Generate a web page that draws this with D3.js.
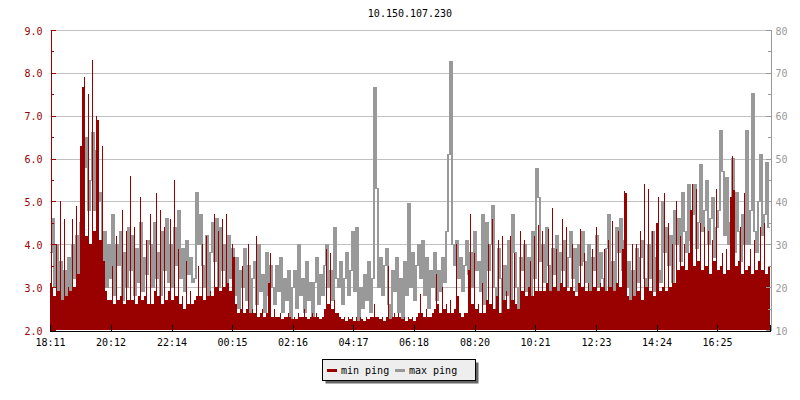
<!DOCTYPE html>
<html><head><meta charset="utf-8">
<script src="https://cdn.jsdelivr.net/npm/d3@7"></script>
<style>
body{margin:0;background:#fff}
svg{display:block}
text{font-family:"DejaVu Sans Mono","Liberation Mono",monospace;font-size:10px}
</style>
</head><body><svg id="c" width="800" height="400"></svg>
<script>
const title = "10.150.107.230";
const startTime = "18:11";
const stepMinutes = 4;
const spanMinutes = 1440;
const xTickLabels = ["18:11","20:12","22:14","00:15","02:16","04:17","06:18","08:20","10:21","12:23","14:24","16:25"];
const leftTicks = [2,3,4,5,6,7,8,9];
const rightTicks = [10,20,30,40,50,60,70,80];
const seriesNames = ["min ping","max ping"];

const minPing = [
3.1,3.0,2.8,4.0,2.9,5.0,2.7,4.6,2.8,3.0,
2.9,4.6,3.0,4.9,3.3,6.3,7.66,7.9,4.2,7.5,
4.0,8.3,4.3,7.0,6.9,4.1,6.3,3.6,2.9,2.7,
2.7,3.5,2.6,4.2,2.7,2.8,4.8,2.6,4.3,2.7,
5.6,2.7,4.4,2.6,2.8,5.1,2.7,2.8,4.1,2.6,
4.7,2.6,2.9,5.2,2.8,4.8,2.6,4.4,2.7,2.9,
4.6,2.7,5.5,2.8,3.9,2.6,2.8,2.5,3.6,2.6,2.9,2.6,
2.7,2.8,3.5,2.8,4.0,2.7,4.2,2.8,2.9,2.8,
4.7,3.0,4.3,2.9,4.6,3.0,4.7,3.1,2.9,4.0,
3.7,2.6,2.4,2.5,3.5,2.4,2.5,4.0,2.4,2.5,
2.4,4.2,2.3,2.4,2.5,2.3,2.4,3.1,3.8,2.3,
2.5,2.3,2.3,2.4,2.25,2.3,2.3,2.4,2.3,2.25,
2.3,2.25,2.4,2.3,2.3,2.5,2.3,2.25,2.3,2.4,
2.3,2.4,2.3,2.25,2.3,2.5,3.9,2.6,3.8,2.5,2.7,2.4,
2.4,2.3,2.25,2.3,2.2,2.3,2.25,2.3,2.2,2.3,
2.2,2.3,2.25,2.2,2.3,2.25,2.3,2.3,2.6,2.3,
2.3,2.25,2.3,2.2,2.3,3.5,2.25,2.3,2.4,2.3,
2.4,2.3,2.25,2.3,2.2,2.3,2.25,2.3,2.2,2.3,
2.4,2.85,2.4,2.3,2.5,2.3,2.3,2.4,2.5,3.3,
2.6,2.4,3.0,2.5,2.6,2.4,2.7,2.4,2.5,4.0,
2.8,2.4,2.3,2.4,2.4,3.4,4.7,2.6,3.8,2.5,2.6,2.4,
3.1,2.4,2.7,4.0,2.6,4.6,2.5,2.8,4.1,2.4,
4.2,2.7,2.9,2.5,4.2,2.7,3.8,2.6,2.5,4.3,
2.9,4.1,2.8,3.0,3.6,2.8,4.2,2.9,4.45,2.9,
4.3,2.9,3.1,4.35,2.9,4.85,3.0,3.9,2.9,3.1,
4.6,3.0,4.4,2.9,3.0,4.0,2.9,2.8,3.1,4.35,
3.0,3.8,2.9,3.1,2.9,3.9,3.0,4.4,2.9,3.1,
3.0,3.9,2.9,4.1,3.0,4.55,2.9,3.1,4.3,3.0,3.9,5.25,
5.2,2.8,2.7,4.0,2.8,4.0,2.9,4.3,2.7,5.4,
3.0,5.3,2.9,4.3,2.8,4.5,5.1,2.9,3.0,5.2,
2.9,4.5,3.0,4.0,3.1,5.0,3.4,4.2,3.5,4.0,
3.4,3.8,4.8,5.4,3.5,5.3,3.6,4.5,3.4,4.4,
3.5,4.3,3.3,4.1,3.6,5.3,3.4,3.5,3.8,3.3,
3.9,3.4,5.1,6.07,5.27,3.5,3.6,4.4,3.3,5.2,
3.4,3.5,3.9,3.3,4.1,3.4,3.6,4.4,3.4,4.5,3.3,3.5
];

const maxPing = [
28,36,20,30,17,26,15,24,18,27,
18,30,22,32,20,35,40,48,55,38,
45,56,38,52,40,42,25,33,20,30,
22,37,18,30,25,33,17,28,20,34,
24,32,18,29,21,35,19,27,23,31,
30,20,35,22,28,18,33,24,36,21,
30,20,34,25,38,22,29,19,31,23,27,21,
22,42,30,37,25,20,32,16,28,35,
26,36,20,34,24,30,18,32,22,29,
18,27,15,24,20,29,17,25,14,22,
26,16,30,19,23,14,28,18,25,20,
16,25,19,27,14,22,17,24,12,20,
24,15,30,18,22,14,26,17,21,13,
21,27,16,23,18,25,30,20,24,17,34,22,
20,26,16,22,28,18,24,33,19,34,
12,20,15,23,17,26,14,22,66.6,43,
20,27,18,25,29,16,11,24,19,27,
14,22,12,26,18,39.5,20,28,17,25,
30,22,31,18,27,15,24,20,28,17,
24,19,27,21,33,51,72.6,30,25,31,
22,27,19,25,31,23,28,20,33,24,26,19,
37,16,35,24,30,39,20,14,29,22,
13,25,18,31,14,37,28,20,14,27,
24,30,19,27,15,33,22,47.8,41,26,
30,21,34,25,18,29,23,32,16,28,
24,31,20,27,33,22,29,19,30,25,
33,26,21,30,18,27,24,32,20,28,
22,12,29,37,17,26,18,34,28,36,24,31,
20,26,15,24,18,29,21,27,31,22,
17,30,22,33,19,27,24,21,40,28,
34,25,32,21,38,30,36,26,42,33,
28,44,31,37,44,29,35,48.6,33,38,
45,30,36,41,27,34,38,56.5,47,32,
45.7,30,35,50,28,42,33,26,37,30,
56.5,30,38,65.2,33,28,40,51,32,37,49,34
];

const RED = "#990000", GRAY = "#999999", GRID = "#c0c0c0";
const M = {l:50, r:770, t:30, b:330};
const svg = d3.select("#c");

const toMin = s => { const [h,m] = s.split(":").map(Number); return h*60+m; };
const t0 = toMin(startTime);
const tickMins = xTickLabels.map(s => ((toMin(s) - t0) + 1440) % 1440);

const x = d3.scaleLinear().domain([0, spanMinutes]).range([M.l, M.r]);
const yL = d3.scaleLinear().domain([2, 9]).range([M.b, M.t]);
const yR = d3.scaleLinear().domain([10, 80]).range([M.b, M.t]);

const n = Math.min(minPing.length, maxPing.length);
const rows = d3.range(n).map(i => ({t: i*stepMinutes, lo: minPing[i], hi: maxPing[i]}));

// min ping: 1px sample bars; the gap pixel between samples takes the lower neighbour
const redPts = [];
rows.forEach((d, i) => {
  const nxt = rows[i+1] || d;
  const px = x(d.t);
  redPts.push({px: px, v: d.lo});
  redPts.push({px: px + 1, v: Math.min(d.lo, nxt.lo)});
});
redPts.push({px: x(spanMinutes), v: rows[n-1].lo});

// max ping: pixel-column line (vertical runs joining consecutive samples)
const grayPts = [];
const pad = 0.5;
rows.forEach((d, i) => {
  const prv = rows[i-1] || d, nxt = rows[i+1] || d;
  const h = yR(d.hi), hp = yR(prv.hi), hn = yR(nxt.hi);
  const px = x(d.t);
  grayPts.push({px: px, a: Math.min(h, hp) - pad, b: Math.max(h, hp) + pad});
  grayPts.push({px: px + 1, a: Math.min(h, hn) - pad, b: Math.max(h, hn) + pad});
});
grayPts.push({px: x(spanMinutes), a: yR(rows[n-1].hi), b: yR(rows[n-1].hi)});

// title
svg.append("text").attr("x", (M.l+M.r)/2).attr("y", 17).attr("text-anchor","middle").attr("fill","#000").text(title);

// grid
svg.append("g").selectAll("line").data(leftTicks.filter(v=>v>2)).join("line")
  .attr("x1", M.l).attr("x2", M.r).attr("y1", d=>Math.round(yL(d))+0.5).attr("y2", d=>Math.round(yL(d))+0.5)
  .attr("stroke", GRID).attr("stroke-width",1);

// max ping
svg.append("path").datum(grayPts)
  .attr("d", d3.area().x(d=>d.px).y0(d=>d.b).y1(d=>d.a).curve(d3.curveStepAfter))
  .attr("fill",GRAY).attr("stroke","none").attr("shape-rendering","crispEdges");

// min ping
svg.append("path").datum(redPts)
  .attr("d", d3.area().x(d=>d.px).y0(yL(2)).y1(d=>yL(d.v)).curve(d3.curveStepAfter))
  .attr("fill",RED).attr("stroke","none").attr("shape-rendering","crispEdges");

// left axis
const minorL = d3.range(2, 9.01, 0.5);
const gL = svg.append("g").attr("transform",`translate(${M.l+0.5},0)`);
gL.call(d3.axisLeft(yL).tickValues(minorL).tickSize(-3).tickFormat(""));
gL.append("g").call(d3.axisLeft(yL).tickValues(leftTicks).tickSize(-5).tickPadding(8).tickFormat(d3.format(".1f")));
gL.selectAll("path,line").attr("stroke",RED);
gL.selectAll("text").attr("fill",RED).attr("font-family",null).attr("font-size",null).attr("dy","0.4em");

// right axis
const minorR = d3.range(10, 80.1, 5);
const gR = svg.append("g").attr("transform",`translate(${M.r+0.5},0)`);
gR.call(d3.axisRight(yR).tickValues(minorR).tickSize(-3).tickFormat(""));
gR.append("g").call(d3.axisRight(yR).tickValues(rightTicks).tickSize(-5).tickPadding(5).tickFormat(d3.format("d")));
gR.selectAll("path,line").attr("stroke",GRAY);
gR.selectAll("text").attr("fill",GRAY).attr("font-family",null).attr("font-size",null).attr("dy","0.4em");

// bottom axis
const gB = svg.append("g").attr("transform",`translate(0,${M.b+0.5})`);
gB.call(d3.axisBottom(x).tickValues(tickMins).tickSize(-6).tickPadding(8).tickFormat((d,i)=>xTickLabels[i]));
gB.selectAll("path,line").attr("stroke","#000");
gB.selectAll("text").attr("fill","#000").attr("font-family",null).attr("font-size",null);
svg.selectAll(".domain").attr("shape-rendering","crispEdges");
svg.selectAll(".tick line").attr("shape-rendering","crispEdges");

// legend
const lg = svg.append("g");
lg.append("rect").attr("x",325.5).attr("y",362.5).attr("width",153).attr("height",21).attr("fill","#666");
lg.append("rect").attr("x",322.5).attr("y",359.5).attr("width",153).attr("height",21).attr("fill","#eeeeee").attr("stroke","#000");
const items = [{name:seriesNames[0], color:RED, x:327},{name:seriesNames[1], color:GRAY, x:395}];
items.forEach(it=>{
  lg.append("line").attr("x1",it.x).attr("x2",it.x+10).attr("y1",370.5).attr("y2",370.5).attr("stroke",it.color).attr("stroke-width",3);
  lg.append("text").attr("x",it.x+14).attr("y",374).attr("fill","#000").text(it.name);
});
</script></body></html>
